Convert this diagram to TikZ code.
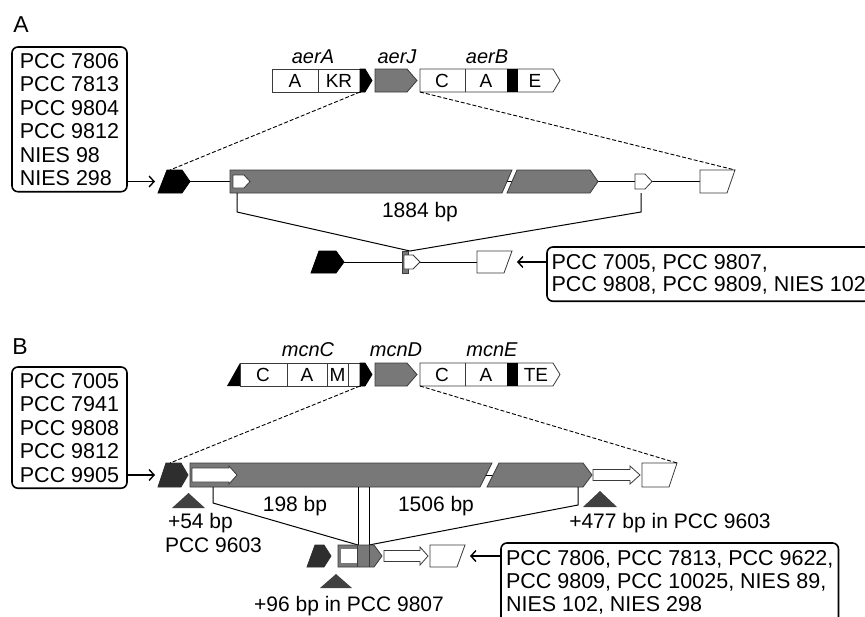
\documentclass[tikz,border=0pt]{standalone}
\usepackage{fontspec}
\setmainfont{Liberation Sans}
\usetikzlibrary{arrows.meta}
\definecolor{genegray}{HTML}{787878}
\definecolor{darkpent}{HTML}{2E2E2E}
\definecolor{trigray}{HTML}{404040}
\definecolor{edgegray}{HTML}{3A3A3A}
\begin{document}
\begin{tikzpicture}[x=1pt,y=-1pt,
  every node/.style={inner sep=0pt, outer sep=0pt},
  panel/.style={font=\fontsize{23}{25}\selectfont},
  listbox/.style={draw, line width=1.6pt, rounded corners=6pt, align=left, font=\fontsize{21.5}{23.5}\selectfont, inner xsep=5pt, inner ysep=6pt},
  segtxt/.style={font=\fontsize{19}{21}\selectfont},
  genelab/.style={font=\fontsize{20}{22}\selectfont\itshape},
  bptxt/.style={font=\fontsize{21}{23}\selectfont},
  gene/.style={draw=edgegray, line width=0.8pt, line join=miter},
  graygene/.style={gene, fill=genegray},
  whitegene/.style={gene, fill=white},
  blackgene/.style={draw=black, fill=black, line width=0.8pt},
  darkgene/.style={draw=darkpent, fill=darkpent, line width=0.8pt},
  conn/.style={line width=1pt},
  zoomline/.style={line width=0.9pt, dash pattern=on 4pt off 2pt},
  inarrow/.style={-{Straight Barb[length=5pt,width=11pt,line width=1.4pt]}, line width=1.4pt},
  marker/.style={fill=trigray},
]
\useasboundingbox (0,0) rectangle (865,616);

% ================= PANEL A =================
\node[panel] (labA) at (21,25) {A};
\node[listbox, anchor=north west, minimum width=115pt] (boxA) at (12,47)
  {PCC 7806\\PCC 7813\\PCC 9804\\PCC 9812\\NIES 98\\NIES 298};

% cluster A
\draw[whitegene] (272,69) rectangle (360,92);
\draw[gene] (318,69) -- (318,92);
\draw[blackgene] (360,69) -- (365,69) -- (372,80.5) -- (365,92) -- (360,92) -- cycle;
\draw[graygene] (375,69) -- (407,69) -- (417,80.5) -- (407,92) -- (375,92) -- cycle;
\draw[whitegene] (420,69) -- (553,69) -- (560,80.5) -- (553,92) -- (420,92) -- cycle;
\draw[gene] (465,69) -- (465,92);
\fill[black] (507,69) rectangle (518,92);
\node[segtxt] (aA) at (295,80.5) {A};
\node[segtxt] (aKR) at (339,80.5) {KR};
\node[segtxt] (aC) at (442,80.5) {C};
\node[segtxt] (aA2) at (486,80.5) {A};
\node[segtxt] (aE) at (535,80.5) {E};
\node[genelab] (laerA) at (313,57) {aerA};
\node[genelab] (laerJ) at (397,57) {aerJ};
\node[genelab] (laerB) at (487,57) {aerB};
\coordinate (aclL) at (360,92);
\coordinate (aclR) at (420,92);

% row 2 A
\coordinate (a2pL) at (158,181.5);
\coordinate (a2pR) at (190,181.5);
\coordinate (a2gL) at (230,181.5);
\coordinate (a2gR) at (598,181.5);
\coordinate (a2sL) at (635,181.5);
\coordinate (a2sR) at (652,181.5);
\coordinate (a2tL) at (700,181.5);
\coordinate (a2top) at (170,170);
\coordinate (a2trap) at (735,170);
\draw[conn] (a2pR) -- (a2gL);
\draw[conn] (a2gR) -- (a2sL);
\draw[conn] (a2sR) -- (a2tL);
\draw[conn] (505,181.5) -- (514,181.5);
\draw[blackgene] (158,193) -- (167,170) -- (182,170) -- (190,181.5) -- (182,193) -- cycle;
\draw[graygene] (230,170) -- (512,170) -- (502,193) -- (230,193) -- cycle;
\draw[graygene] (517,170) -- (590,170) -- (598,181.5) -- (590,193) -- (507,193) -- cycle;
\draw[whitegene] (233,175) -- (244,175) -- (250,181.5) -- (244,188) -- (233,188) -- cycle;
\draw[whitegene] (635,174) -- (645,174) -- (652,181.5) -- (645,189) -- (635,189) -- cycle;
\draw[whitegene] (700,170) -- (735,170) -- (727,193) -- (700,193) -- cycle;
\draw[inarrow] (boxA.east |- a2pL) -- ([xshift=-3pt]a2pL);
\draw[zoomline] (aclL) -- (a2top);
\draw[zoomline] (aclR) -- (a2trap);

% bracket A
\coordinate (a3apex) at (410,251);
\draw[conn] (237,193) -- (237,212) -- (a3apex) -- (641,212) -- (641,193);
\node[bptxt] (bp1884) at (420,212) {1884 bp};

% row 3 A
\coordinate (a3pR) at (344,262);
\coordinate (a3sL) at (402,262);
\coordinate (a3sR) at (420,262);
\coordinate (a3tL) at (477,262);
\coordinate (a3tR) at (512,262);
\draw[conn] (a3pR) -- (a3sL);
\draw[conn] (a3sR) -- (a3tL);
\draw[blackgene] (311,273) -- (319,251) -- (336,251) -- (344,262) -- (336,273) -- cycle;
\draw[graygene] (402,251) rectangle (408,273);
\draw[whitegene] (404,255) -- (413,255) -- (420,262) -- (413,269) -- (404,269) -- cycle;
\draw[whitegene] (477,251) -- (512,251) -- (504,273) -- (477,273) -- cycle;
\node[listbox, anchor=north west, inner xsep=4.5pt, inner ysep=7pt, font=\fontsize{21.5}{22.5}\selectfont] (boxA3) at (547,247)
  {PCC 7005, PCC 9807,\\PCC 9808, PCC 9809, NIES 102};
\draw[inarrow] (boxA3.west |- a3tR) -- ([xshift=5pt]a3tR);

% ================= PANEL B =================
\node[panel] (labB) at (20,347) {B};
\node[listbox, anchor=north west, minimum width=115pt] (boxB) at (12,367)
  {PCC 7005\\PCC 7941\\PCC 9808\\PCC 9812\\PCC 9905};

% cluster B
\fill[black] (227,386) -- (240,363) -- (240,386) -- cycle;
\draw[whitegene] (240,363) rectangle (360,386);
\draw[gene] (287,363) -- (287,386);
\draw[gene] (327,363) -- (327,386);
\draw[gene] (348,363) -- (348,386);
\draw[blackgene] (360,363) -- (365,363) -- (372,374.5) -- (365,386) -- (360,386) -- cycle;
\draw[graygene] (375,363) -- (407,363) -- (417,374.5) -- (407,386) -- (375,386) -- cycle;
\draw[whitegene] (420,363) -- (553,363) -- (560,374.5) -- (553,386) -- (420,386) -- cycle;
\draw[gene] (465,363) -- (465,386);
\fill[black] (507,363) rectangle (518,386);
\node[segtxt] (bC) at (263,374.5) {C};
\node[segtxt] (bA) at (307,374.5) {A};
\node[segtxt] (bM) at (337.5,374.5) {M};
\node[segtxt] (bC2) at (442,374.5) {C};
\node[segtxt] (bA2) at (486,374.5) {A};
\node[segtxt] (bTE) at (536,374.5) {TE};
\node[genelab] (lmcnC) at (308,350) {mcnC};
\node[genelab] (lmcnD) at (396,350) {mcnD};
\node[genelab] (lmcnE) at (492,350) {mcnE};
\coordinate (bclL) at (360,386);
\coordinate (bclR) at (420,386);

% row 2 B
\coordinate (b2pL) at (158,475);
\coordinate (b2top) at (170,463);
\coordinate (b2trap) at (677,463);
\draw[conn] (485,475) -- (498,475);
\draw[darkgene] (158,487) -- (166,463) -- (181,463) -- (188,475) -- (181,487) -- cycle;
\draw[graygene] (190,463) -- (492,463) -- (480,487) -- (190,487) -- cycle;
\draw[graygene] (499,463) -- (583,463) -- (592,475) -- (583,487) -- (487,487) -- cycle;
\draw[whitegene] (192,468) -- (229,468) -- (229,466) -- (237,475) -- (229,484) -- (229,482) -- (192,482) -- cycle;
\draw[whitegene] (593,469.5) -- (630,469.5) -- (630,466) -- (640,475) -- (630,484) -- (630,480.5) -- (593,480.5) -- cycle;
\draw[whitegene] (642,463) -- (677,463) -- (669,487) -- (642,487) -- cycle;
\draw[inarrow] (boxB.east |- b2pL) -- ([xshift=-3pt]b2pL);
\draw[zoomline] (bclL) -- (b2top);
\draw[zoomline] (bclR) -- (b2trap);

% insertion markers row 2
\fill[marker] (172,508) -- (188.5,493) -- (205,508) -- cycle;
\fill[marker] (583,507) -- (600,491) -- (617,507) -- cycle;
\node[bptxt, anchor=west] (ins54) at (168,523) {+54 bp};
\node[bptxt, anchor=west] (ins54s) at (165,545) {PCC 9603};
\node[bptxt] (ins477) at (670,523) {+477 bp in PCC 9603};

% brackets B
\coordinate (b3L) at (358,545);
\coordinate (b3R) at (369,545);
\draw[conn] (213,487) -- (213,503) -- (b3L);
\draw[conn] (358,487) -- (b3L);
\draw[conn] (369,487) -- (b3R);
\draw[conn] (578,487) -- (578,505) -- (b3R);
\node[bptxt] (bp198) at (295,506) {198 bp};
\node[bptxt] (bp1506) at (436,506) {1506 bp};

% row 3 B
\coordinate (b3tR) at (465,556);
\draw[darkgene] (307,567) -- (315,545) -- (324,545) -- (331,556) -- (324,567) -- cycle;
\draw[graygene] (338,545) -- (374,545) -- (382,556) -- (374,567) -- (338,567) -- cycle;
\fill[white] (341,549) rectangle (357,563);
\draw[gene] (357,545) -- (357,567);
\draw[gene] (369,545) -- (369,567);
\draw[whitegene] (384,550.5) -- (420,550.5) -- (420,547) -- (428,556) -- (420,565) -- (420,561.5) -- (384,561.5) -- cycle;
\draw[whitegene] (430,545) -- (465,545) -- (457,567) -- (430,567) -- cycle;
\fill[marker] (320,588) -- (336,574) -- (352,588) -- cycle;
\node[bptxt] (ins96) at (349,606) {+96 bp in PCC 9807};
\node[listbox, anchor=north west, inner xsep=5pt, inner ysep=7pt, font=\fontsize{21.5}{23}\selectfont] (boxB3) at (501,543)
  {PCC 7806, PCC 7813, PCC 9622,\\PCC 9809, PCC 10025, NIES 89,\\NIES 102, NIES 298\rule[-14pt]{0pt}{1pt}};
\draw[inarrow] (boxB3.west |- b3tR) -- ([xshift=5pt]b3tR);
\end{tikzpicture}
\end{document}
